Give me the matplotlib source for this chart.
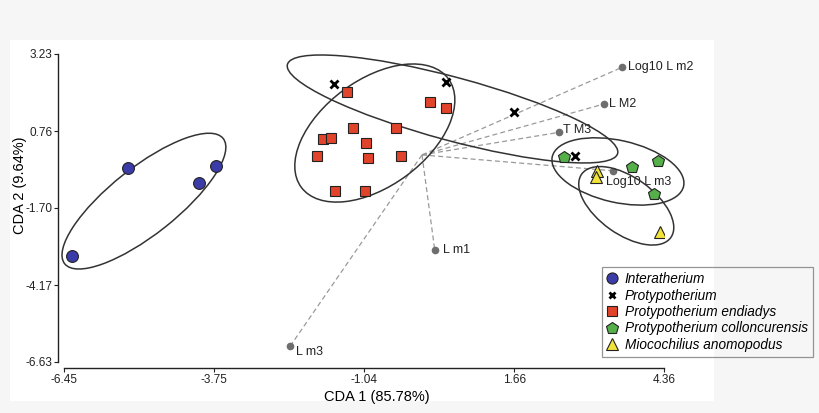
import matplotlib
matplotlib.use("Agg")
import matplotlib.pyplot as plt
from matplotlib.patches import Ellipse, Rectangle
from matplotlib.lines import Line2D
import matplotlib.transforms as mtransforms

plt.rcParams['font.family'] = ['Liberation Sans', 'DejaVu Sans']

# ---------------- data ----------------
inter_x = [-6.31, -5.30, -4.02, -3.71]
inter_y = [-3.23, -0.41, -0.91, -0.34]

proty_x = [-1.59, 0.44, 1.66, 2.76]
proty_y = [2.26, 2.32, 1.36, -0.03]

endi_x = [-1.35, 0.14, 0.44, -1.24, -0.47, -1.79, -1.64, -1.00, -1.90, -0.98, -0.38, -1.57, -1.02]
endi_y = [2.02, 1.69, 1.51, 0.85, 0.85, 0.51, 0.53, 0.39, -0.04, -0.09, -0.02, -1.15, -1.16]

coll_x = [2.56, 3.78, 4.26, 4.18]
coll_y = [-0.08, -0.38, -0.20, -1.25]

mioc_x = [3.15, 3.13, 4.29]
mioc_y = [-0.51, -0.72, -2.48]

vec_names = ["Log10 L m2", "L M2", "T M3", "Log10 L m3", "L m1", "L m3"]
vec_x = [3.60, 3.28, 2.46, 3.45, 0.23, -2.37]
vec_y = [2.80, 1.63, 0.72, -0.51, -3.05, -6.11]

x_ticks = [-6.45, -3.75, -1.04, 1.66, 4.36]
y_ticks = [3.23, 0.76, -1.70, -4.17, -6.63]

legend_labels = ["Interatherium", "Protypotherium", "Protypotherium endiadys",
                 "Protypotherium colloncurensis", "Miocochilius anomopodus"]

# ellipse centers (data), semi-axes (px), angle (deg)
ell_cx = [-5.01, 0.55, -0.85, 3.53, 3.68]
ell_cy = [-1.48, 1.47, 0.70, -0.53, -1.63]
ell_a = [101, 171, 91.4, 67.3, 54.7]
ell_b = [33.5, 31.6, 53.1, 31.0, 28.4]
ell_ang = [38.3, -15.1, 36.4, -12.7, -35.4]

# label offsets (pixels) for vector names
lab_dx = [6, 5, 4, -7, 8, 6]
lab_dy = [0, 0, 2, -11, 0, -6]

# ---------------- figure ----------------
W, H = 820, 413
fig = plt.figure(figsize=(W / 100, H / 100), dpi=100)
fig.patch.set_facecolor('#f6f6f6')
fig.patches.append(Rectangle((10 / W, (H - 401) / H), 704 / W, 361 / H,
                             transform=fig.transFigure, facecolor='white',
                             edgecolor='none', zorder=-10))

ax = fig.add_axes([64 / W, (H - 362) / H, 600 / W, 308 / H])
ax.set_facecolor('none')
ax.set_xlim(x_ticks[0], x_ticks[-1])
ax.set_ylim(y_ticks[-1], y_ticks[0])

for s in ['top', 'right']:
    ax.spines[s].set_visible(False)
ax.spines['left'].set_position(('outward', 4))
ax.spines['bottom'].set_position(('outward', 4))
for s in ['left', 'bottom']:
    ax.spines[s].set_linewidth(1.0)
    ax.spines[s].set_color('#222222')

ax.set_xticks(x_ticks)
ax.set_xticklabels([f"{v:.2f}" for v in x_ticks])
ax.set_yticks(y_ticks)
ax.set_yticklabels([f"{v:.2f}" for v in y_ticks])
ax.tick_params(direction='out', length=3, width=0.8, labelsize=8.5,
               colors='#222222', pad=1.5)

ax.set_xlabel("CDA 1 (85.78%)", fontsize=10.5, va='center')
ax.set_ylabel("CDA 2 (9.64%)", fontsize=10.5, va='center')
ax.xaxis.set_label_coords((377 - 64) / 600, (362 - 397) / 308)
ax.yaxis.set_label_coords((20 - 64) / 600, (362 - 185) / 308)

# loading vectors
for name, vx, vy, dx, dy in zip(vec_names, vec_x, vec_y, lab_dx, lab_dy):
    ax.plot([0, vx], [0, vy], color='#9a9a9a', lw=0.9, ls=(0, (4, 2.5)), zorder=1)
    ax.plot(vx, vy, 'o', color='#6e6e6e', ms=4.5, zorder=2, clip_on=False)
    ax.annotate(name, (vx, vy), xytext=(dx * 0.72, dy * 0.72),
                textcoords='offset points', ha='left', va='center',
                fontsize=9, color='#222222', annotation_clip=False)

# ellipses
for cx, cy, a, b, ang in zip(ell_cx, ell_cy, ell_a, ell_b, ell_ang):
    tr = fig.dpi_scale_trans + mtransforms.ScaledTranslation(cx, cy, ax.transData)
    e = Ellipse((0, 0), 2 * a / 100, 2 * b / 100, angle=ang, transform=tr,
                facecolor='none', edgecolor='#333333', lw=1.1, zorder=3,
                clip_on=False)
    ax.add_patch(e)

# points
ec = '#222222'
ax.plot(inter_x, inter_y, 'o', ms=8.5, mfc='#3c3ca8', mec=ec, mew=0.8, ls='none', zorder=4)
ax.plot(proty_x, proty_y, 'x', ms=6, mec='black', mew=2, ls='none', zorder=4)
ax.plot(endi_x, endi_y, 's', ms=7, mfc='#e2442b', mec=ec, mew=0.8, ls='none', zorder=4)
ax.plot(coll_x, coll_y, 'p', ms=9, mfc='#56b04a', mec=ec, mew=0.8, ls='none', zorder=4)
ax.plot(mioc_x, mioc_y, '^', ms=8, mfc='#f2e33a', mec=ec, mew=0.8, ls='none', zorder=4)

# legend
handles = [
    Line2D([], [], marker='o', ms=8, mfc='#3c3ca8', mec=ec, mew=0.8, ls='none'),
    Line2D([], [], marker='x', ms=5, mec='black', mew=2, ls='none'),
    Line2D([], [], marker='s', ms=7, mfc='#e2442b', mec=ec, mew=0.8, ls='none'),
    Line2D([], [], marker='p', ms=9, mfc='#56b04a', mec=ec, mew=0.8, ls='none'),
    Line2D([], [], marker='^', ms=8, mfc='#f2e33a', mec=ec, mew=0.8, ls='none'),
]
leg = ax.legend(handles, legend_labels, loc='upper left',
                bbox_to_anchor=(601.7 / W, 1 - 267.3 / H), bbox_transform=fig.transFigure,
                borderaxespad=0, frameon=True, fancybox=False,
                prop={'size': 9.8, 'style': 'italic'},
                handlelength=0.8, handletextpad=0.55, borderpad=0.35,
                labelspacing=0.18)
leg.get_frame().set_facecolor('none')
leg.get_frame().set_edgecolor('#7a7a7a')
leg.get_frame().set_linewidth(0.9)

fig.savefig("out.png", dpi=100, facecolor=fig.get_facecolor())
